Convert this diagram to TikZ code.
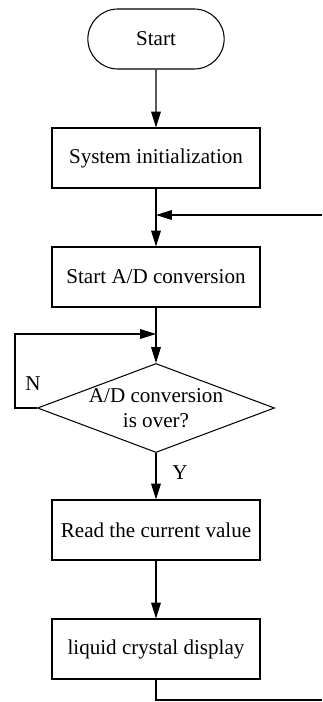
\documentclass[tikz,border=0pt]{standalone}
\usepackage{fontspec}
\setmainfont{Liberation Serif}
\usepackage{tikz}
\usetikzlibrary{positioning, arrows.meta, shapes.geometric, shapes.misc}

\begin{document}
\begin{tikzpicture}[
    stepbox/.style={draw, line width=0.6pt, minimum width=4.16cm, minimum height=1.2cm,
      font=\fontsize{12}{14}\selectfont},
    terminal/.style={draw, line width=0.6pt, rounded rectangle, minimum width=2.96cm,
      minimum height=1.2cm, font=\fontsize{12}{14}\selectfont},
    decision/.style={draw, line width=0.6pt, diamond, inner sep=0pt,
      minimum width=4.74cm, minimum height=1.78cm},
    lbl/.style={font=\fontsize{12}{14}\selectfont, inner sep=0pt},
    flow/.style={line width=0.6pt},
    >={Triangle[length=9pt, width=5.5pt]}
  ]
    \useasboundingbox (0,0) rectangle (6.44,-14.04);

    \node[terminal] (start) at (3.12,-0.78)  {Start};
    \node[stepbox]  (init)  at (3.12,-3.16)  {System initialization};
    \node[stepbox]  (adc)   at (3.12,-5.54)  {Start A/D conversion};
    \node[decision] (over)  at (3.12,-8.16)  {};
    \node[lbl, align=center] (overtxt) at (over) {A/D conversion\\is over?};
    \node[stepbox]  (read)  at (3.12,-10.6)  {Read the current value};
    \node[stepbox]  (lcd)   at (3.12,-12.98) {liquid crystal display};

    % join points
    \coordinate (back)  at (3.12,-4.3);
    \coordinate (backR) at (6.44,-4.3);
    \coordinate (wait)  at (3.12,-6.68);
    \coordinate (waitL) at (0.3,-8.16);
    \coordinate (endB)  at (6.44,-14.0);

    \draw[->, flow] (start) -- (init);
    \draw[->, flow] (init) -- (adc);
    \draw[->, flow] (adc) -- (over);
    \draw[->, flow] (over) -- (read);
    \draw[->, flow] (read) -- (lcd);

    \draw[->, flow] (backR) -- (back);
    \draw[flow] (lcd.south) |- (endB);
    \draw[->, flow] (over.west) -- (waitL) |- (wait);

    \node[lbl] (no)  at (0.66,-7.68) {N};
    \node[lbl] (yes) at (3.6,-9.46)  {Y};
  \end{tikzpicture}
\end{document}
